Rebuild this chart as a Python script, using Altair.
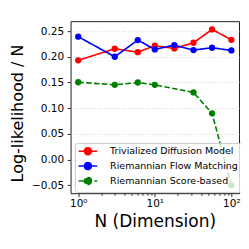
import altair as alt
import pandas as pd

# ---- data ----
N_all = [1, 3, 6, 10, 18, 32, 56, 100]
tdm = [0.193, 0.2156, 0.209, 0.2214, 0.2162, 0.2272, 0.2532, 0.233]
rfm = [0.239, 0.200, 0.2325, 0.2143, 0.2227, 0.213, 0.2175, 0.2124]
N_rsb = [1, 3, 6, 10, 32, 56, 100]
rsb = [0.1505, 0.1455, 0.150, 0.1455, 0.1306, 0.090, -0.050]

series_names = ["Trivialized Diffusion Model", "Riemannian Flow Matching", "Riemannian Score-based"]
colors = ["#ff0000", "#0000ff", "#008000"]
dashes = [[1, 0], [1, 0], [5.5, 2.4]]

y_ticks = [-0.05, 0.0, 0.05, 0.10, 0.15, 0.20, 0.25]
x_ticks = [1, 2, 3, 4, 5, 6, 7, 8, 9, 10, 20, 30, 40, 50, 60, 70, 80, 90, 100]

rows = []
for n, v in zip(N_all, tdm):
    rows.append({"N": n, "v": v, "series": series_names[0]})
for n, v in zip(N_all, rfm):
    rows.append({"N": n, "v": v, "series": series_names[1]})
for n, v in zip(N_rsb, rsb):
    rows.append({"N": n, "v": v, "series": series_names[2]})
df = pd.DataFrame(rows)

color_scale = alt.Scale(domain=series_names, range=colors)
dash_scale = alt.Scale(domain=series_names, range=dashes)

# legend glyph: short line with a dot; symbol size 49 -> 3.5 px per unit
L = 2.66
r = 1.0
sym_path = f"M-{L},0L{L},0M{r},0A{r},{r},0,1,1,-{r},0A{r},{r},0,1,1,{r},0Z"

legend = alt.Legend(
    title=None, orient="none", legendX=4.3, legendY=122,
    symbolType=sym_path, symbolSize=49, symbolStrokeWidth=1.6,
    symbolOffset=4.8,
    labelFontSize=9.5, labelFont="DejaVu Sans", labelColor="black",
    labelOffset=17.5, padding=3.5, rowPadding=0.9,
    fillColor="rgba(255,255,255,0.8)", strokeColor="#cccccc",
    cornerRadius=2.5, labelLimit=300,
)

x_enc = alt.X(
    "N:Q",
    scale=alt.Scale(type="log", domain=[10 ** -0.1, 10 ** 2.1], nice=False),
    axis=alt.Axis(
        values=x_ticks,
        labelExpr="datum.value == 1 ? '10⁰' : datum.value == 10 ? '10¹' : datum.value == 100 ? '10²' : ''",
        tickSize={"condition": {"test": "indexof([1, 10, 100], datum.value) >= 0", "value": 3.5}, "value": 2},
        labelOverlap=False, labelFlush=False, grid=False, domain=False,
        labelFontSize=10.5, labelPadding=1.5, tickColor="black", tickWidth=0.8,
        labelColor="black",
        title="N (Dimension)", titleFontSize=17, titleFontWeight="normal",
        titleColor="black", titleBaseline="alphabetic", titleAlign="center",
        titleX=84.3, titleY=33,
    ),
)
y_enc = alt.Y(
    "v:Q",
    scale=alt.Scale(domain=[-0.0652, 0.2692], nice=False, zero=False),
    axis=alt.Axis(
        values=y_ticks,
        labelExpr="datum.value < 0 ? '−' + format(-datum.value, '.2f') : format(datum.value, '.2f')",
        tickSize=3.5, labelPadding=3.5, domain=False,
        grid=True, gridDash=[1, 2], gridColor="#c8c8c8", gridWidth=0.8,
        labelFontSize=10.5, tickColor="black", tickWidth=0.8, labelColor="black",
        title="Log-likelihood / N", titleFontSize=16, titleFontWeight="normal",
        titleColor="black", titleAngle=270, titleBaseline="bottom", titleAlign="center",
        titleX=-45, titleY=92,
    ),
)

base = alt.Chart(df).encode(x=x_enc, y=y_enc)

lines = base.mark_line(strokeWidth=1.6).encode(
    color=alt.Color("series:N", scale=color_scale, legend=legend, sort=series_names),
    strokeDash=alt.StrokeDash("series:N", scale=dash_scale, legend=legend, sort=series_names),
)
points = base.mark_point(filled=True, size=40, opacity=1).encode(
    color=alt.Color("series:N", scale=color_scale, legend=legend, sort=series_names),
)

chart = alt.layer(lines, points).properties(
    width=168.7, height=172.3,
    autosize=alt.AutoSizeParams(type="none"),
    padding={"left": 62.7, "top": 13, "right": 2, "bottom": 40},
).configure(font="DejaVu Sans").configure_view(stroke="#222222", strokeWidth=1)

chart.save("out.html", embed_options={"renderer": "svg", "actions": False})
